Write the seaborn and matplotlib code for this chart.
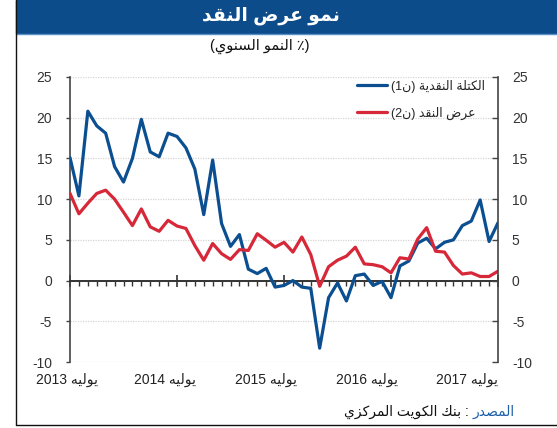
import re
import pandas as pd
import seaborn as sns
import matplotlib.pyplot as plt
import matplotlib.transforms as mtransforms
from matplotlib.patches import Rectangle
from matplotlib.lines import Line2D

# Monthly year-on-year growth (%), Jul 2013 - Jul 2017
m1_growth = [15.1, 10.4, 20.8, 19.0, 18.1, 14.0, 12.1, 15.0, 19.8, 15.8, 15.2, 18.1,
             17.7, 16.3, 13.7, 8.1, 14.8, 7.0, 4.2, 5.65, 1.4, 0.86, 1.5, -0.8,
             -0.6, 0.0, -0.8, -0.95, -8.3, -2.1, -0.3, -2.5, 0.6, 0.8, -0.6, -0.1,
             -2.1, 1.8, 2.4, 4.6, 5.2, 3.9, 4.7, 5.0, 6.75, 7.3, 9.9, 4.8, 7.1]
m2_growth = [10.7, 8.2, 9.5, 10.7, 11.1, 10.0, 8.4, 6.75, 8.8, 6.6, 6.05, 7.4,
             6.7, 6.4, 4.3, 2.5, 4.55, 3.3, 2.6, 3.8, 3.7, 5.75, 4.95, 4.1,
             4.7, 3.5, 5.35, 3.2, -0.7, 1.7, 2.5, 3.0, 4.1, 2.05, 1.95, 1.7,
             0.95, 2.8, 2.65, 5.1, 6.5, 3.6, 3.5, 1.85, 0.8, 0.95, 0.5, 0.5, 1.15]
series_names = ['الكتلة النقدية', 'عرض النقد']
series_codes = ['(ن1)', '(ن2)']
year_labels = ['يوليه 2013', 'يوليه 2014', 'يوليه 2015', 'يوليه 2016', 'يوليه 2017']
year_label_pos = [-0.3, 10.7, 22.0, 33.3, 44.5]
y_ticks = [-10, -5, 0, 5, 10, 15, 20, 25]

blue = '#0B4F91'
red = '#D62839'

# minimal Arabic shaping + right-to-left ordering (no bidi libs available)
FORMS = {
    'ا': (0xFE8D, False), 'ب': (0xFE8F, True), 'ة': (0xFE93, False), 'ت': (0xFE95, True),
    'د': (0xFEA9, False), 'ر': (0xFEAD, False), 'ز': (0xFEAF, False), 'س': (0xFEB1, True),
    'ص': (0xFEB9, True), 'ض': (0xFEBD, True), 'ع': (0xFEC9, True), 'ق': (0xFED5, True),
    'ك': (0xFED9, True), 'ل': (0xFEDD, True), 'م': (0xFEE1, True), 'ن': (0xFEE5, True),
    'ه': (0xFEE9, True), 'و': (0xFEED, False), 'ي': (0xFEF1, True),
}
MIRROR = {'(': ')', ')': '('}


def ar(text):
    shaped = []
    for i, ch in enumerate(text):
        if ch not in FORMS:
            shaped.append(ch)
            continue
        base, dual = FORMS[ch]
        prev = text[i - 1] if i > 0 else ''
        nxt = text[i + 1] if i + 1 < len(text) else ''
        join_prev = prev in FORMS and FORMS[prev][1]
        join_next = dual and nxt in FORMS
        if join_prev and join_next:
            off = 3
        elif join_prev:
            off = 1
        elif join_next:
            off = 2
        else:
            off = 0
        shaped.append(chr(base + off))
    shaped = ''.join(shaped)
    out = []
    for p in reversed(re.findall(r'\d+|\D+', shaped)):
        if p.isdigit():
            out.append(p)
        else:
            out.append(''.join(MIRROR.get(c, c) for c in reversed(p)))
    return ''.join(out)


sns.set_style('white')
plt.rcParams['font.family'] = ['Liberation Sans', 'DejaVu Sans']
plt.rcParams['axes.unicode_minus'] = False

df = pd.DataFrame({'month': range(len(m1_growth)),
                   series_names[0]: m1_growth,
                   series_names[1]: m2_growth})
long_df = df.melt(id_vars='month', var_name='series', value_name='growth')

fig = plt.figure(figsize=(5.57, 4.28), dpi=100)
W, H = 557, 428
ax = fig.add_axes([70 / W, 1 - 362 / H, 428 / W, 285 / H])

sns.lineplot(data=long_df, x='month', y='growth', hue='series',
             palette=[blue, red], linewidth=2.3, ax=ax, legend=False, zorder=3)

ax.set_xlim(0, 48)
ax.set_ylim(-10, 25)
ax.set_xlabel('')
ax.set_ylabel('')

# x axis drawn along zero
ax.spines['bottom'].set_position(('data', 0))
ax.spines['bottom'].set_color('#333333')
ax.spines['bottom'].set_linewidth(1.4)
ax.spines['top'].set_visible(False)
ax.spines['right'].set_visible(False)
ax.spines['left'].set_color('#444444')
ax.spines['left'].set_linewidth(1.2)
ax.set_xticks(range(0, 49, 12))
ax.set_xticks(range(0, 49), minor=True)
ax.tick_params(axis='x', which='major', direction='inout', length=9, width=1.2,
               color='#333333', labelbottom=False, bottom=True)
ax.tick_params(axis='x', which='minor', direction='out', length=3.5, width=1,
               color='#333333', bottom=True)

ax.set_yticks(y_ticks)
ax.tick_params(axis='y', direction='out', length=3, width=1, color='#444444',
               labelsize=10, labelcolor='#333333', pad=10, left=True)
ax.grid(axis='y', color='#d6d6d6', linewidth=0.9, linestyle=(0, (1, 1)))
ax.grid(axis='x', visible=False)

ax2 = ax.twinx()
ax2.set_ylim(-10, 25)
ax2.set_yticks(y_ticks)
for side in ['left', 'top', 'bottom']:
    ax2.spines[side].set_visible(False)
ax2.spines['right'].set_color('#444444')
ax2.spines['right'].set_linewidth(1.2)
ax2.tick_params(axis='y', direction='in', length=4, width=1, color='#444444',
                labelsize=10, labelcolor='#333333', pad=10, right=True)

# year labels under the chart
trans = mtransforms.blended_transform_factory(ax.transData, ax.transAxes)
for pos, lab in zip(year_label_pos, year_labels):
    ax.text(pos, -0.063, ar(lab), transform=trans, ha='center', va='center',
            fontsize=10, color='#222222')

# legend
handles = [Line2D([], [], color=blue, lw=2.3), Line2D([], [], color=red, lw=2.3)]
labels = [ar(n + ' ' + c) for n, c in zip(series_names, series_codes)]
ax2.legend(handles, labels, loc='upper right', bbox_to_anchor=(0.995, 1.03),
           frameon=False, fontsize=9, handlelength=2.4, handletextpad=0.3,
           labelspacing=1.1)

# title bar and frame
fig.add_artist(Rectangle((16 / W, 1 - 33 / H), 1 - 16 / W, 33 / H,
                         transform=fig.transFigure, color='#0D4C8B', zorder=0))
fig.add_artist(Line2D([16 / W, 1], [1 - 33.5 / H] * 2, transform=fig.transFigure,
                      color='#5B8FC8', lw=1))
fig.add_artist(Line2D([15.5 / W] * 2, [1 - 425 / H, 1], transform=fig.transFigure,
                      color='#111111', lw=1))
fig.add_artist(Line2D([15.5 / W, 1], [1 - 425 / H] * 2, transform=fig.transFigure,
                      color='#111111', lw=1))
fig.text(271 / W, 1 - 16 / H, ar('نمو عرض النقد'), ha='center', va='center',
         fontsize=13.5, fontweight='bold', color='white')
fig.text(260 / W, 1 - 46 / H, ar('(٪ النمو السنوي)'), ha='center', va='center',
         fontsize=10.5, color='#111111')

# source line: blue word on the right, rest to its left
src = fig.text(515 / W, 1 - 412 / H, ar('المصدر'), ha='right', va='center',
               fontsize=10, color='#1F5FA8')
fig.canvas.draw()
bb = src.get_window_extent()
fig.text(bb.x0 / (fig.dpi * 5.57), 1 - 412 / H, ar(' : بنك الكويت المركزي'),
         ha='right', va='center', fontsize=10, color='#111111')

fig.savefig('out.png', dpi=100)
